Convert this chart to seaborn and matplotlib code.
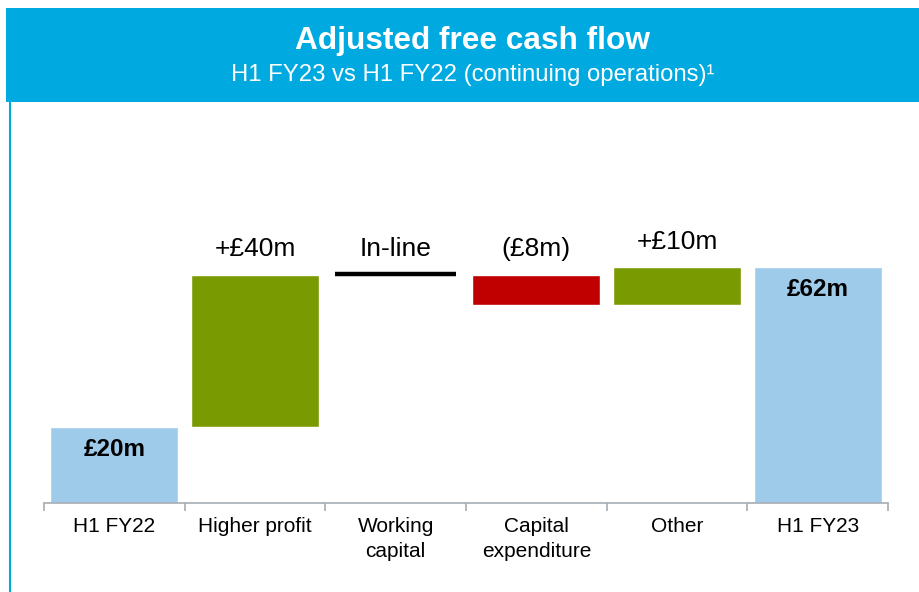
import matplotlib
matplotlib.use("Agg")
import matplotlib.pyplot as plt
import seaborn as sns
import pandas as pd
import numpy as np
from matplotlib.patches import Rectangle
from matplotlib.lines import Line2D

# ---- data ----
categories = ["H1 FY22", "Higher profit", "Working\ncapital", "Capital\nexpenditure", "Other", "H1 FY23"]
changes = [20, 40, 0, -8, 10, 62]          # £m
kinds = ["total", "delta", "delta", "delta", "delta", "total"]
value_labels = ["£20m", "+£40m", "In-line", "(£8m)", "+£10m", "£62m"]
title = "Adjusted free cash flow"
subtitle = "H1 FY23 vs H1 FY22 (continuing operations)¹"

BLUE_HEADER = "#00A9E0"
LIGHT_BLUE = "#9FCBEB"
GREEN = "#7A9A01"
RED = "#C00000"

# ---- waterfall geometry from data ----
bottoms, heights, colors = [], [], []
running = 0
for v, k in zip(changes, kinds):
    if k == "total":
        bottoms.append(0); heights.append(v); colors.append(LIGHT_BLUE)
        running = v
    else:
        if v >= 0:
            bottoms.append(running); heights.append(v); colors.append(GREEN)
        else:
            bottoms.append(running + v); heights.append(-v); colors.append(RED)
        running += v

df = pd.DataFrame({"cat": categories, "height": heights})

sns.set_theme(style="white")
plt.rcParams["font.family"] = ["Liberation Sans", "DejaVu Sans"]
plt.rcParams["xtick.bottom"] = True

fig = plt.figure(figsize=(9.2, 5.92), dpi=100)
W, H = 920, 592
ax = fig.add_axes([44 / W, 1 - 503 / H, (888 - 44) / W, 70 * 3.8 / H])

sns.barplot(data=df, x="cat", y="height", hue="cat", palette=colors, legend=False,
            width=0.91, ax=ax, saturation=1)
for p, b, h, v in zip(ax.patches, bottoms, heights, changes):
    p.set_y(b)
    p.set_height(h)
    if v == 0:
        p.set_visible(False)

ax.set_ylim(0, 70)
ax.set_xlim(-0.5, len(categories) - 0.5)

# in-line marker for zero change
for i, (v, k) in enumerate(zip(changes, kinds)):
    if k == "delta" and v == 0:
        ax.hlines(bottoms[i] + 0.3, i - 0.43, i + 0.43, color="black", lw=3.2)

# labels
for i, (lab, k) in enumerate(zip(value_labels, kinds)):
    if k == "total":
        ax.text(i, bottoms[i] + heights[i] - 5.8, lab, ha="center", va="center",
                fontsize=17.5, fontweight="bold", color="black", clip_on=False)
    else:
        top = bottoms[i] + heights[i]
        ax.text(i, top + 6.8, lab, ha="center", va="center",
                fontsize=19, color="black", clip_on=False)

# axes styling
for s in ["top", "right", "left"]:
    ax.spines[s].set_visible(False)
ax.spines["bottom"].set_color("#A6AEB4")
ax.spines["bottom"].set_linewidth(1.2)
ax.set_yticks([])
ax.set_xlabel(""); ax.set_ylabel("")
ax.set_xticks(range(len(categories)))
ax.set_xticklabels(categories, fontsize=15, color="black", linespacing=1.4)
ax.tick_params(axis="x", which="major", length=0, pad=10)
ax.set_xticks(np.arange(-0.5, len(categories), 1.0), minor=True)
ax.tick_params(axis="x", which="minor", bottom=True, length=6, width=1.2,
               color="#A6AEB4", direction="out")
ax.set_facecolor("none")

# header band and left border
fig.patches.append(Rectangle((6 / W, 1 - 102 / H), 1 - 6 / W, 94 / H, transform=fig.transFigure,
                             facecolor=BLUE_HEADER, edgecolor="none", zorder=0))
fig.lines.append(Line2D([10.5 / W, 10.5 / W], [0, 1 - 102 / H], transform=fig.transFigure,
                        color=BLUE_HEADER, lw=1.5))
fig.text(473 / W, 1 - 41 / H, title, ha="center", va="center", color="white",
         fontsize=22.8, fontweight="bold")
fig.text(473 / W, 1 - 75 / H, subtitle, ha="center", va="center", color="white",
         fontsize=17.2)

fig.savefig("out.png", dpi=100)
